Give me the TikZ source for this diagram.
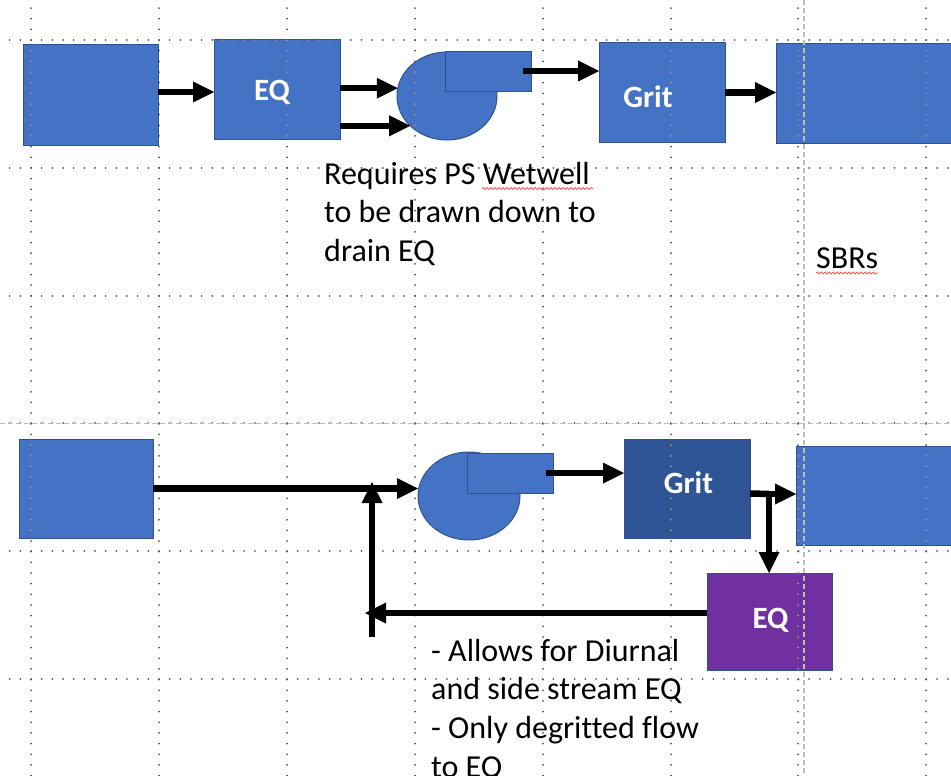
\documentclass[tikz,border=0pt]{standalone}
\usepackage{fontspec}
\setmainfont{Carlito}[Ligatures=NoCommon]
\usetikzlibrary{arrows.meta,shapes.geometric,calc,decorations.pathmorphing}

\definecolor{blu}{HTML}{4472C4}
\definecolor{bord}{HTML}{2F528F}
\definecolor{gritdark}{HTML}{2F5597}
\definecolor{purp}{HTML}{7030A0}
\definecolor{gdot}{HTML}{555555}
\definecolor{tandot}{HTML}{B8965E}
\definecolor{guide}{HTML}{BDBDBD}
\definecolor{spell}{HTML}{F06060}

% dotted layout grid: 128 px cells, 12 dots per cell
\newcommand\drawgrid[1]{%
  \foreach \k in {0,...,7}{
    \draw[#1, line width=2pt, line cap=round, dash pattern=on 0.01pt off 10.65pt]
      ({31+127.9*\k},-2.6) -- ({31+127.9*\k},790);}
  \foreach \k in {0,...,5}{
    \draw[#1, line width=2pt, line cap=round, dash pattern=on 0.01pt off 10.65pt]
      (-0.95,{40+127.8*\k}) -- (960,{40+127.8*\k});}
}

\tikzset{
  blk/.style={draw=bord, fill=blu, line width=1pt, inner sep=0pt, outer sep=0pt},
  boxtxt/.style={text=white, font=\bfseries\fontsize{31}{36}\selectfont, inner sep=0pt, anchor=base},
  note/.style={font=\fontsize{32}{38.7}\selectfont, align=left, inner sep=0pt, anchor=base west},
  flow/.style={line width=6.5pt, -{Triangle[length=21pt,width=21pt,line width=0pt]}},
  squiggle/.style={spell, line width=0.8pt, decorate,
    decoration={snake, segment length=4pt, amplitude=1.1pt}},
}

\begin{document}
\begin{tikzpicture}[x=1pt, y=-1pt]
\useasboundingbox (0,0) rectangle (951,776);
\clip (0,0) rectangle (951,776);

\drawgrid{gdot}

% ---------- upper scheme ----------
\node[blk, minimum width=135pt, minimum height=100pt] (in1) at (90.5,95) {};
\node[blk, minimum width=126pt, minimum height=99pt] (eq1) at (277,89.5) {};
\node[blk, ellipse, minimum width=100pt, minimum height=88pt] (pump1) at (447,96) {};
\node[blk, minimum width=86pt, minimum height=40pt] (pump1o) at (488,72) {};
\node[blk, minimum width=126pt, minimum height=99pt] (grit1) at (662,92.5) {};
\node[blk, minimum width=184pt, minimum height=99pt] (sbr1) at (868,93.5) {};

% ---------- lower scheme ----------
\node[blk, minimum width=134pt, minimum height=99pt] (in2) at (86,488.5) {};
\node[blk, ellipse, minimum width=102pt, minimum height=88pt] (pump2) at (469,496) {};
\node[blk, minimum width=86pt, minimum height=40pt] (pump2o) at (510,473) {};
\node[blk, fill=gritdark, minimum width=126pt, minimum height=99pt] (grit2) at (687,488.5) {};
\node[blk, minimum width=164pt, minimum height=99pt] (sbr2) at (878,495.5) {};
\node[blk, fill=purp, minimum width=125pt, minimum height=97pt] (eq2) at (769.5,621.5) {};

% grid dots showing through the shapes
\begin{scope}
  \clip (in1.north west) rectangle (in1.south east)
        (eq1.north west) rectangle (eq1.south east)
        (grit1.north west) rectangle (grit1.south east)
        (sbr1.north west) rectangle (sbr1.south east)
        (in2.north west) rectangle (in2.south east)
        (grit2.north west) rectangle (grit2.south east)
        (sbr2.north west) rectangle (sbr2.south east)
        (eq2.north west) rectangle (eq2.south east);
  \drawgrid{tandot}
\end{scope}
\begin{scope}
  \clip (pump1.center) ellipse [x radius=50pt, y radius=44pt];
  \drawgrid{tandot}
\end{scope}
\begin{scope}
  \clip (pump2.center) ellipse [x radius=51pt, y radius=44pt];
  \drawgrid{tandot}
\end{scope}

% alignment guides
\draw[guide, line width=1.5pt, dash pattern=on 5pt off 3pt] (804,0) -- (804,776);
\draw[guide, line width=1.5pt, dash pattern=on 5pt off 3pt] (0,423.4) -- (951,423.4);

% box labels
\node[boxtxt] (eq1t) at (272,100) {EQ};
\node[boxtxt] (grit1t) at (648,107) {Grit};
\node[boxtxt] (grit2t) at (688.5,493) {Grit};
\node[boxtxt] (eq2t) at (770.5,628) {EQ};

% ---------- flows, upper ----------
\draw[flow] ([yshift=3pt]in1.east) -- ([yshift=3pt]in1.east -| eq1.west);
\draw[flow] (eq1.east |- pump1.171) -- (pump1.171);
\draw[flow] (eq1.east |- pump1.219) -- (pump1.219);
\draw[flow] ([xshift=-8pt,yshift=1pt]pump1o.east) -- ([yshift=1pt]pump1o.east -| grit1.west);
\draw[flow] (grit1.east) -- (grit1.east -| sbr1.west);

% ---------- flows, lower ----------
\coordinate (tee) at (769,494);
\coordinate (jn) at (372,482);
\coordinate (rt) at (372,637);
\draw[flow] (in2.east) -- (in2.east -| pump2.west);
\draw[flow] ([xshift=-7pt]pump2o.east) -- (pump2o.east -| grit2.west);
\draw[line width=6.5pt] ([yshift=-5pt]grit2.east) -- (tee);
\draw[flow] ([xshift=-3pt]tee) -- (tee -| sbr2.west);
\draw[flow] ([yshift=3pt]tee) -- (tee |- eq2.north);
\draw[flow] ([yshift=8.5pt]eq2.west) -- ($(eq2.west -| rt)+(-7,-8.5)$);
\draw[flow] (rt) -- (jn);

% ---------- notes (anchored on the baseline of the last line) ----------
\node[note] (note1) at (324,261.4) {Requires PS Wetwell\\to be drawn down to\\drain EQ};
\draw[squiggle] (482,188.5) -- (593,188.5);
\node[note] (sbrlbl) at (816,268) {SBRs};
\draw[squiggle] ([yshift=-5pt]sbrlbl.base west) -- ([yshift=-5pt]sbrlbl.base east);
\node[note] (note2) at (431,777.1) {- Allows for Diurnal\\and side stream EQ\\- Only degritted flow\\to EQ};
\end{tikzpicture}
\end{document}
